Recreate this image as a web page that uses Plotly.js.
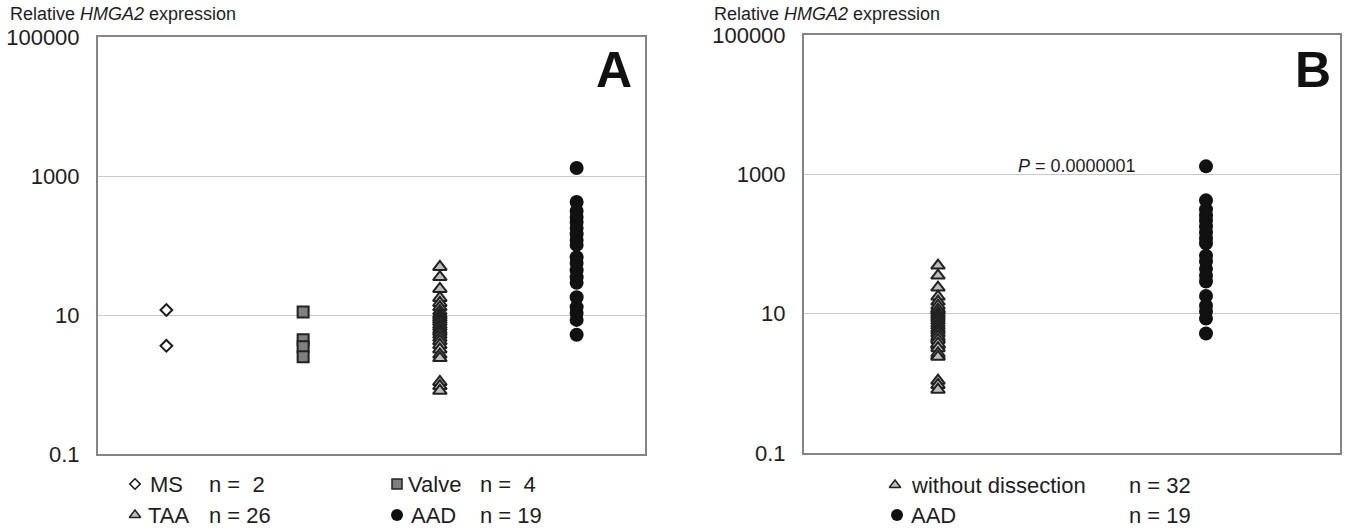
<!DOCTYPE html>
<html>
<head>
<meta charset="utf-8">
<script src="https://cdn.plot.ly/plotly-3.0.1.min.js"></script>
<style>html,body{margin:0;padding:0;background:#fff;}#chart{width:1347px;height:529px;}</style>
</head>
<body>
<div id="chart"></div>
<script>
// ---- data ----
const groupsA = ['MS', 'Valve', 'TAA', 'AAD'];
const countsA = [2, 4, 26, 19];
const msValues = [11.8, 3.6];
const valveValues = [11.0, 4.4, 3.5, 2.5];
const taaValues = [49.1, 35.2, 23.7, 17.6, 14.9, 13.0, 11.4, 10.3, 9.7, 9.1, 8.5, 7.9, 7.2,
                   6.7, 6.1, 5.7, 5.2, 4.7, 4.2, 3.7, 3.2, 2.7, 2.4, 1.09, 0.95, 0.81];
const aadValues = [1303, 423, 313, 257, 218, 179, 146, 120, 102, 68, 56, 44, 35, 29,
                   18, 13, 10.7, 8.5, 5.2];
const groupsB = ['without dissection', 'AAD'];
const countsB = [32, 19];
const withoutDissection = msValues.concat(valveValues, taaValues);
const pText = '0.0000001';
const yTickVals = [0.1, 10, 1000, 100000];
const yTickText = ['0.1', '10', '1000', '100000'];

// ---- styles ----
const FONT = 'Liberation Sans, Arial, sans-serif';
const TXT = '#1e1e1e';
const W = 1347, H = 529;
const styles = {
  MS: {symbol: 'diamond-open', size: 9, color: '#1a1a1a', line: {color: '#1a1a1a', width: 2}},
  Valve: {symbol: 'square', size: 11, color: '#7f7f7f', line: {color: '#222', width: 2}},
  TAA: {symbol: 'triangle-up', size: 12, color: '#bdbdbd', line: {color: '#222', width: 2}},
  AAD: {symbol: 'circle', size: 14, color: '#111', line: {color: '#111', width: 0}}
};
const legendStyles = {
  MS: {symbol: 'diamond-open', size: 8, color: '#1a1a1a', line: {color: '#1a1a1a', width: 1.6}},
  Valve: {symbol: 'square', size: 10, color: '#7f7f7f', line: {color: '#222', width: 1.5}},
  TAA: {symbol: 'triangle-up', size: 10, color: '#bdbdbd', line: {color: '#222', width: 1.5}},
  AAD: {symbol: 'circle', size: 12, color: '#111', line: {color: '#111', width: 0}}
};

function col(vals, idx, name, xa, ya) {
  return {
    type: 'scatter', mode: 'markers', name: name,
    x: vals.map(() => idx), y: vals,
    xaxis: xa, yaxis: ya, showlegend: false, hoverinfo: 'y',
    marker: styles[name]
  };
}

const traces = [
  col(msValues, 0, 'MS', 'x', 'y'),
  col(valveValues, 1, 'Valve', 'x', 'y'),
  col(taaValues, 2, 'TAA', 'x', 'y'),
  col(aadValues, 3, 'AAD', 'x', 'y'),
  col(withoutDissection, 0, 'TAA', 'x2', 'y2'),
  col(aadValues, 1, 'AAD', 'x2', 'y2')
];

// legend entries (layout positions in page pixels)
const legendA = [
  {name: 'MS', key: 'MS', px: 135, py: 484, tx: 148, nx: 207, n: countsA[0], pad: ' '},
  {name: 'Valve', key: 'Valve', px: 397, py: 484, tx: 406, nx: 478, n: countsA[1], pad: ' '},
  {name: 'TAA', key: 'TAA', px: 135, py: 515, tx: 146, nx: 207, n: countsA[2], pad: ''},
  {name: 'AAD', key: 'AAD', px: 397, py: 515, tx: 409, nx: 478, n: countsA[3], pad: ''}
];
const legendB = [
  {name: groupsB[0], key: 'TAA', px: 895, py: 485, tx: 909, nx: 1127, n: countsB[0], pad: ''},
  {name: groupsB[1], key: 'AAD', px: 897, py: 515, tx: 909, nx: 1127, n: countsB[1], pad: ''}
];
const annotations = [];
legendA.concat(legendB).forEach(e => {
  traces.push({
    type: 'scatter', mode: 'markers', x: [e.px], y: [e.py], xaxis: 'x3', yaxis: 'y3',
    showlegend: false, hoverinfo: 'skip', marker: legendStyles[e.key], cliponaxis: false
  });
  annotations.push({xref: 'paper', yref: 'paper', x: e.tx / W, y: 1 - e.py / H, xanchor: 'left', yanchor: 'middle',
    text: e.name, showarrow: false, font: {family: FONT, size: 22, color: TXT}});
  annotations.push({xref: 'paper', yref: 'paper', x: e.nx / W, y: 1 - e.py / H, xanchor: 'left', yanchor: 'middle',
    text: 'n = ' + e.pad + e.n, showarrow: false, font: {family: FONT, size: 22, color: TXT}});
});

// titles and panel letters
[8, 712].forEach(x => {
  annotations.push({xref: 'paper', yref: 'paper', x: x / W, y: 1 - 2 / H, xanchor: 'left', yanchor: 'top',
    text: 'Relative <i>HMGA2</i> expression', showarrow: false, font: {family: FONT, size: 18, color: TXT}});
});
annotations.push({xref: 'paper', yref: 'paper', x: 614 / W, y: 1 - 70 / H, xanchor: 'center', yanchor: 'middle',
  text: '<b>A</b>', showarrow: false, font: {family: FONT, size: 50, color: '#111'}});
annotations.push({xref: 'paper', yref: 'paper', x: 1313 / W, y: 1 - 70 / H, xanchor: 'center', yanchor: 'middle',
  text: '<b>B</b>', showarrow: false, font: {family: FONT, size: 50, color: '#111'}});
annotations.push({xref: 'paper', yref: 'paper', x: 1016 / W, y: 1 - 166 / H, xanchor: 'left', yanchor: 'middle',
  text: '<i>P</i> = ' + pText, showarrow: false, font: {family: FONT, size: 18, color: TXT}});

function yAxis(top, bottom, anchor) {
  return {
    type: 'log', range: [-1, 5], domain: [1 - bottom / H, 1 - top / H], anchor: anchor,
    tickvals: yTickVals, ticktext: yTickText, ticks: '', ticklabelstandoff: 12,
    tickfont: {family: FONT, size: 22, color: TXT},
    showgrid: true, gridcolor: '#c8c8c8', gridwidth: 1,
    showline: true, mirror: true, linecolor: '#858585', linewidth: 2, zeroline: false
  };
}
function xAxis(left, right, n, anchor) {
  return {
    domain: [left / W, right / W], range: [-0.5, n - 0.5], anchor: anchor,
    showticklabels: false, ticks: '', showgrid: false, zeroline: false,
    showline: true, mirror: true, linecolor: '#858585', linewidth: 2
  };
}

const layout = {
  width: W, height: H, margin: {l: 0, r: 0, t: 0, b: 0},
  paper_bgcolor: '#fff', plot_bgcolor: 'rgba(0,0,0,0)', showlegend: false,
  xaxis: xAxis(98, 645, groupsA.length, 'y'),
  yaxis: yAxis(37, 454, 'x'),
  xaxis2: xAxis(804, 1340, groupsB.length, 'y2'),
  yaxis2: yAxis(35, 453, 'x2'),
  xaxis3: {domain: [0, 1], range: [0, W], visible: false, anchor: 'y3', fixedrange: true},
  yaxis3: {domain: [0, 1], range: [H, 0], visible: false, anchor: 'x3', fixedrange: true},
  annotations: annotations
};

Plotly.newPlot('chart', traces, layout, {displayModeBar: false, staticPlot: true});
</script>
</body>
</html>
